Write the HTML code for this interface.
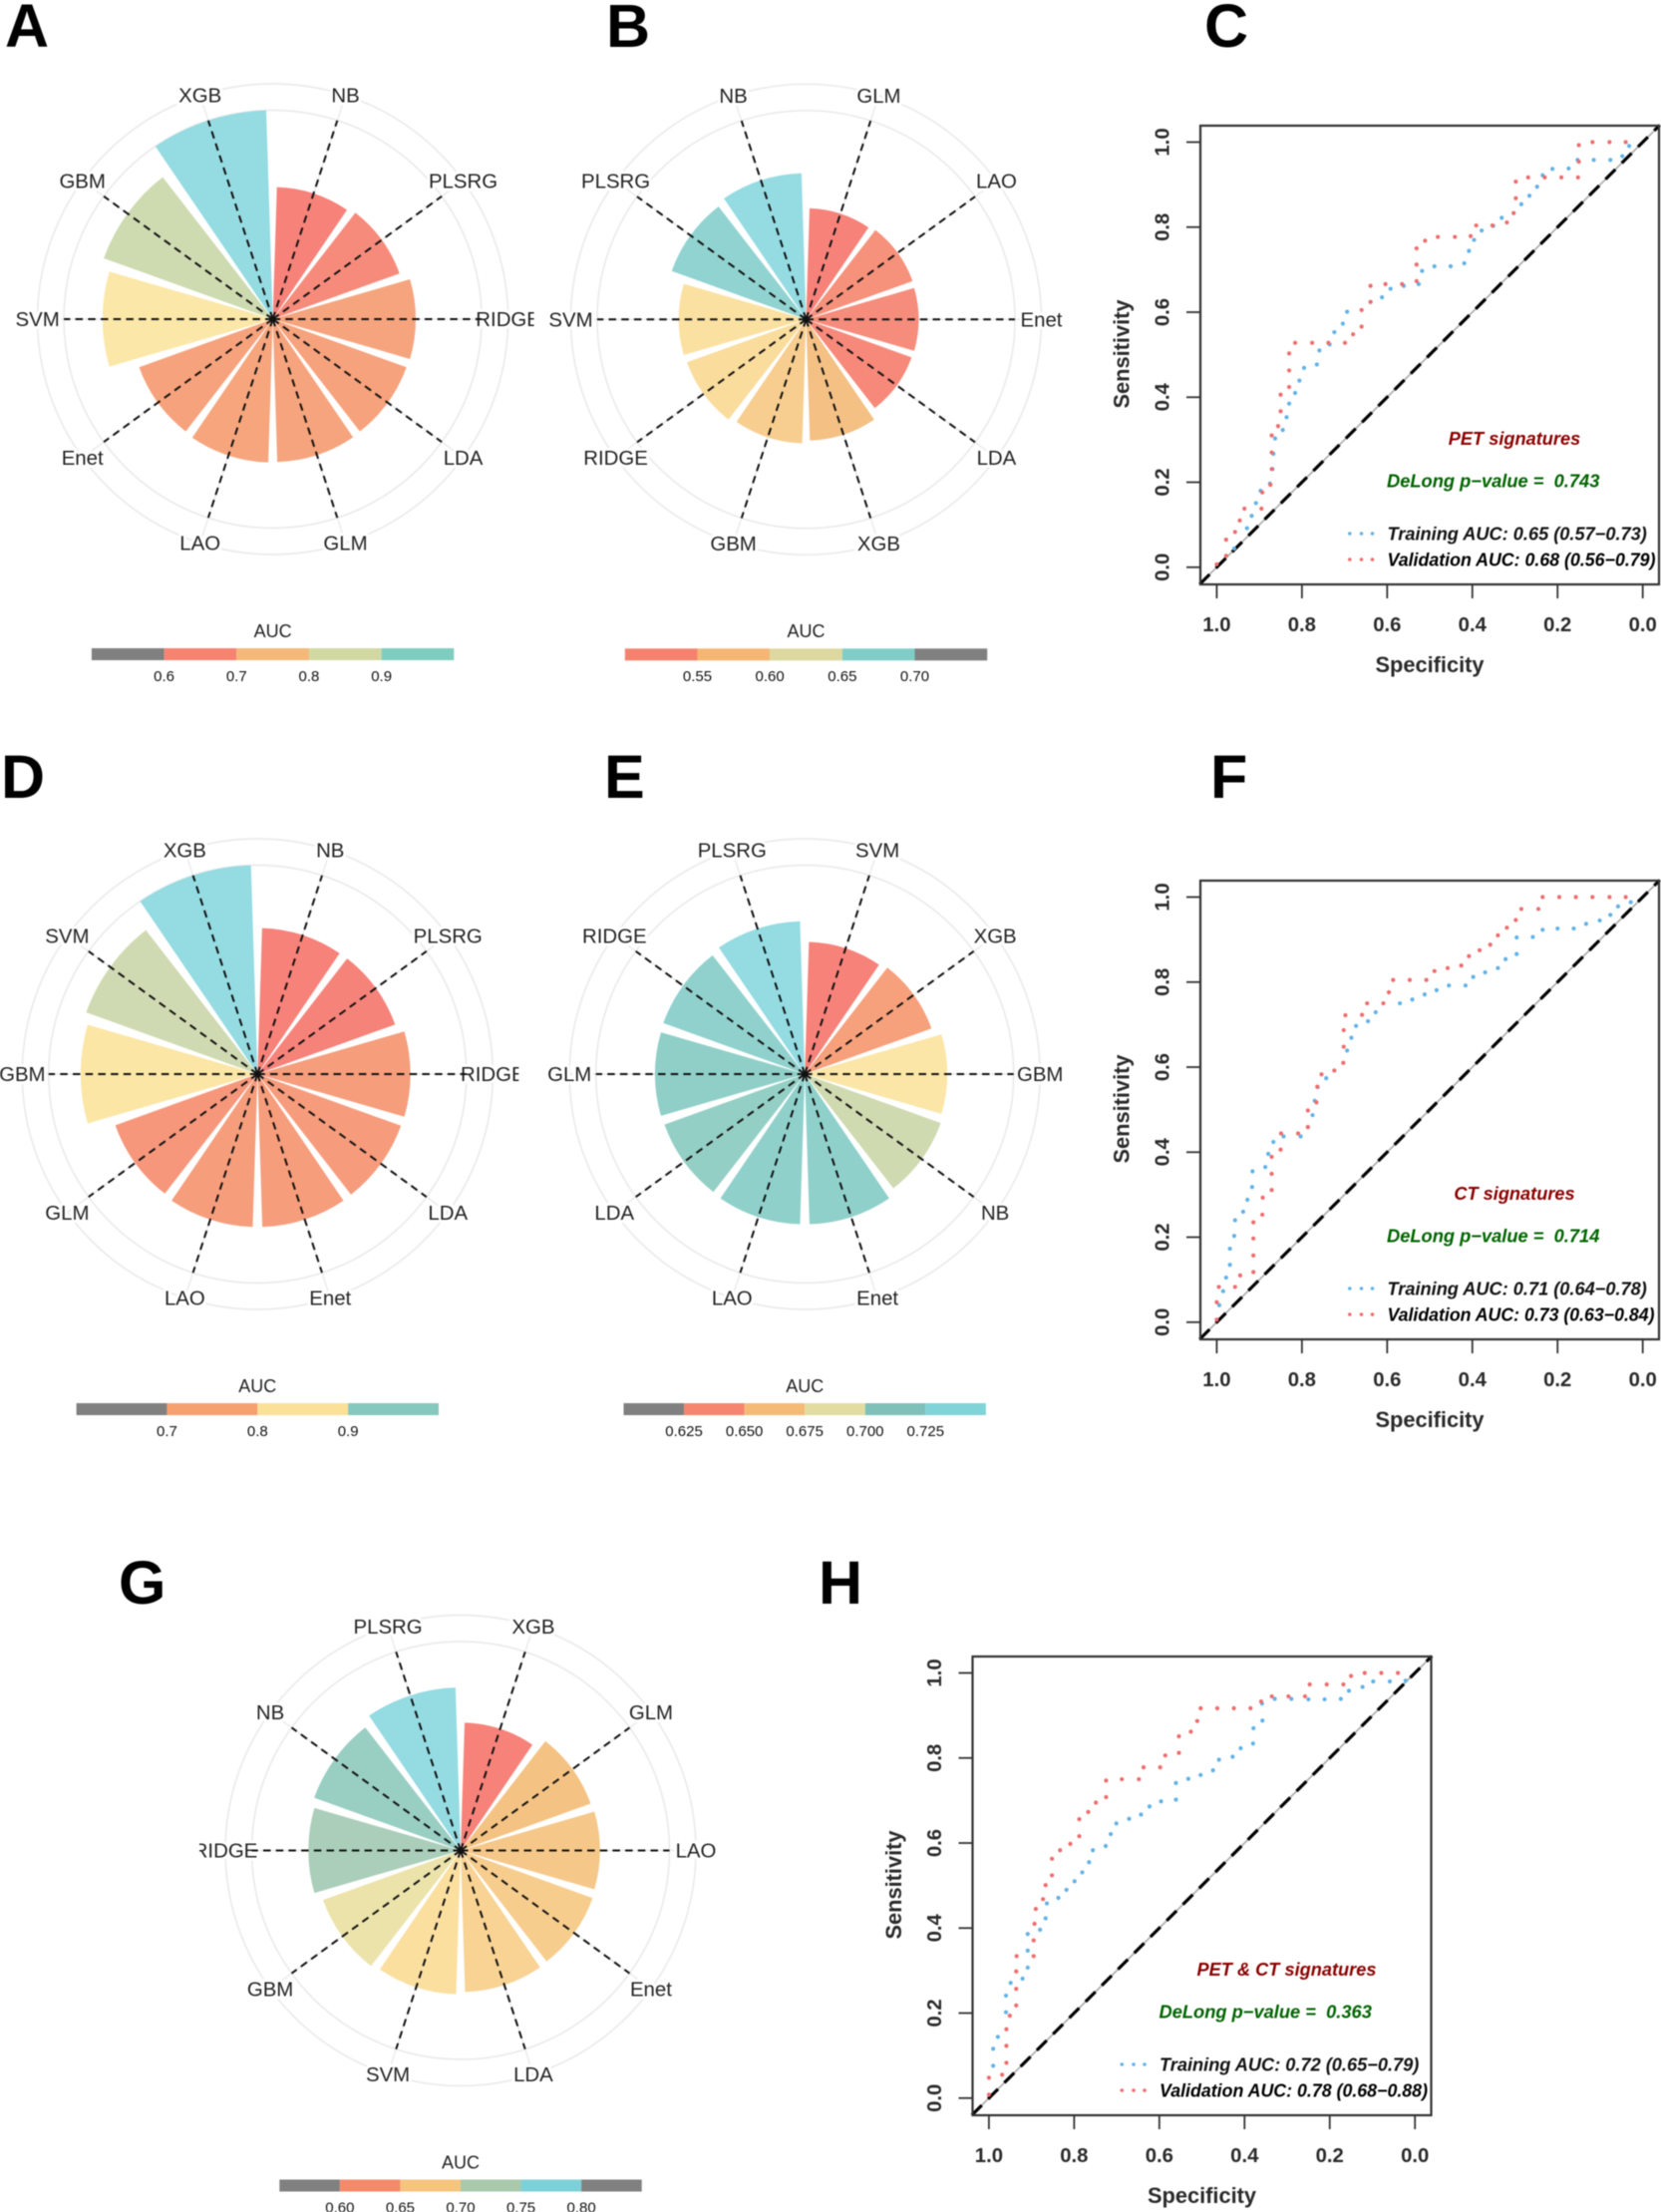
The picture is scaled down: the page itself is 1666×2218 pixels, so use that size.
<!DOCTYPE html>
<html lang="en">
<head>
<meta charset="utf-8">
<title>AUC radial charts and ROC curves</title>
<style>
html,body{margin:0;padding:0;background:#fff;}
svg{display:block;font-family:"Liberation Sans",Arial,sans-serif;filter:blur(0.5px);}
</style>
</head>
<body>
<svg id="figure" width="1666" height="2218" viewBox="0 0 1666 2218" xmlns="http://www.w3.org/2000/svg"></svg>
<script>
// ---------- Radial bar data ----------
const panelAMethods = ["NB","PLSRG","RIDGE","LDA","GLM","LAO","Enet","SVM","GBM","XGB"];
const panelAAuc = [0.632,0.645,0.684,0.68,0.684,0.686,0.68,0.815,0.86,1.0];
const panelBMethods = ["GLM","LAO","Enet","LDA","XGB","GBM","RIDGE","SVM","PLSRG","NB"];
const panelBAuc = [0.532,0.542,0.539,0.537,0.58,0.593,0.606,0.61,0.684,0.70];
const panelDMethods = ["NB","PLSRG","RIDGE","LDA","Enet","LAO","GLM","GBM","SVM","XGB"];
const panelDAuc = [0.699,0.70,0.732,0.73,0.732,0.732,0.724,0.847,0.872,1.0];
const panelEMethods = ["SVM","XGB","GBM","NB","Enet","LAO","LDA","GLM","RIDGE","PLSRG"];
const panelEAuc = [0.633,0.645,0.682,0.692,0.719,0.719,0.714,0.717,0.72,0.732];
const panelGMethods = ["XGB","GLM","LAO","Enet","LDA","SVM","GBM","RIDGE","NB","PLSRG"];
const panelGAuc = [0.612,0.662,0.667,0.672,0.677,0.688,0.70,0.729,0.745,0.78];

// ---------- Binned legend data ----------
const legendADomain = [0.5,1.0];
const legendATicks = [0.6,0.7,0.8,0.9];
const legendALabels = ["0.6","0.7","0.8","0.9"];
const legendBDomain = [0.5,0.75];
const legendBTicks = [0.55,0.60,0.65,0.70];
const legendBLabels = ["0.55","0.60","0.65","0.70"];
const legendDDomain = [0.6,1.0];
const legendDTicks = [0.7,0.8,0.9];
const legendDLabels = ["0.7","0.8","0.9"];
const legendEDomain = [0.6,0.75];
const legendETicks = [0.625,0.65,0.675,0.70,0.725];
const legendELabels = ["0.625","0.650","0.675","0.700","0.725"];
const legendGDomain = [0.55,0.85];
const legendGTicks = [0.60,0.65,0.70,0.75,0.80];
const legendGLabels = ["0.60","0.65","0.70","0.75","0.80"];

// ---------- ROC data (specificity, sensitivity) ----------
const rocCTrainSpec = [.959,.929,.918,.908,.897,.875,.869,.867,.863,.845,.836,.830,.816,.806,.795,.765,.759,.735,.724,.704,.694,.639,.612,.592,.561,.526,.518,.489,.451,.419,.408,.396,.378,.351,.331,.303,.285,.266,.248,.235,.212,.174,.153,.115,.076,.048,.032];
const rocCTrainSens = [.044,.092,.121,.151,.180,.197,.231,.267,.303,.323,.353,.385,.410,.439,.469,.477,.510,.524,.553,.573,.601,.624,.635,.655,.662,.666,.697,.708,.708,.715,.744,.770,.792,.803,.822,.833,.854,.874,.895,.922,.937,.938,.958,.958,.958,.967,.991];
const rocCValidSpec = [1,.978,.978,.957,.946,.935,.895,.893,.874,.871,.871,.871,.856,.850,.850,.830,.830,.830,.816,.776,.738,.699,.680,.660,.660,.639,.639,.604,.565,.531,.531,.531,.511,.481,.441,.404,.391,.353,.319,.303,.298,.298,.269,.230,.191,.152,.150,.150,.118,.078,.040];
const rocCValidSens = [.007,.027,.065,.083,.110,.138,.138,.176,.194,.231,.270,.310,.332,.367,.406,.424,.463,.503,.528,.528,.528,.528,.548,.566,.605,.624,.662,.666,.666,.673,.712,.750,.768,.777,.777,.779,.804,.804,.811,.833,.868,.907,.917,.917,.917,.917,.954,.993,1,1,1];
const rocFTrainSpec = [.994,.985,.978,.969,.969,.959,.957,.938,.928,.917,.916,.886,.879,.867,.843,.803,.786,.775,.770,.763,.743,.724,.694,.684,.673,.645,.627,.570,.541,.512,.484,.455,.416,.398,.370,.340,.322,.296,.296,.258,.235,.200,.162,.133,.101,.076,.058,.028];
const rocFTrainSens = [.040,.073,.105,.135,.173,.203,.240,.260,.288,.318,.355,.365,.396,.424,.437,.437,.459,.487,.521,.553,.574,.592,.639,.669,.697,.708,.729,.750,.759,.771,.781,.792,.792,.812,.823,.833,.854,.866,.905,.906,.923,.926,.926,.937,.945,.958,.978,.988];
const rocFValidSpec = [1,1,.995,.957,.945,.914,.914,.914,.914,.893,.892,.871,.871,.871,.850,.849,.809,.786,.786,.766,.764,.754,.724,.703,.702,.702,.698,.659,.647,.609,.596,.586,.547,.508,.489,.458,.426,.408,.383,.358,.340,.319,.298,.285,.245,.235,.196,.157,.118,.078,.040];
const rocFValidSens = [.006,.047,.083,.083,.110,.118,.157,.197,.235,.253,.293,.311,.349,.389,.406,.444,.444,.459,.498,.517,.554,.583,.592,.610,.648,.687,.722,.723,.750,.750,.776,.805,.805,.805,.826,.833,.839,.861,.875,.888,.910,.928,.946,.972,.972,1,1,1,1,1,1];
const rocHTrainSpec = [.990,.990,.979,.960,.960,.949,.921,.909,.909,.909,.880,.867,.864,.837,.818,.799,.781,.765,.756,.726,.714,.701,.671,.643,.623,.596,.561,.561,.532,.503,.474,.460,.428,.409,.380,.379,.358,.359,.329,.290,.250,.212,.174,.155,.123,.098,.059,.022];
const rocHTrainSens = [.076,.116,.144,.202,.241,.271,.281,.307,.347,.386,.396,.423,.458,.471,.490,.510,.531,.555,.583,.593,.621,.646,.657,.667,.686,.698,.702,.741,.751,.760,.771,.796,.803,.823,.834,.870,.888,.928,.939,.939,.938,.938,.939,.958,.967,.980,.980,.982];
const rocHValidSpec = [1,1,.969,.959,.959,.959,.951,.936,.936,.936,.935,.895,.895,.893,.890,.873,.867,.852,.852,.833,.809,.788,.788,.767,.749,.725,.725,.688,.648,.637,.598,.586,.554,.554,.526,.511,.503,.464,.425,.386,.361,.336,.297,.258,.247,.207,.168,.150,.118,.079,.040];
const rocHValidSens = [.008,.048,.055,.083,.123,.162,.194,.218,.257,.298,.334,.334,.371,.410,.445,.468,.501,.524,.563,.583,.598,.616,.656,.673,.695,.708,.747,.750,.750,.778,.778,.806,.812,.851,.862,.887,.917,.917,.917,.917,.933,.945,.945,.945,.973,.973,.973,.993,1,1,1];
const rocAxisTicks = [0,0.2,0.4,0.6,0.8,1.0];

// ---------- Styles ----------
const svg = document.getElementById('figure');
const NS = 'http://www.w3.org/2000/svg';
const R_UNIT = 209.5, R_OUTER = 236, CLIP_HALF = 262;
const rampStops = [[0,'#F6827A'],[.12,'#F6A07C'],[.3,'#F4C384'],[.46,'#FBE0A0'],[.5,'#FBE7A8'],[.57,'#D0DAB2'],[.62,'#CEDAB0'],[.7,'#A8CDBA'],[.85,'#8FCFC8'],[1,'#94DBE2']];
const swatchesA = ['#808080','#F5836F','#F4B878','#D2D8A2','#7FCDC0'];
const swatchesB = ['#F5826E','#F4B672','#DCD8A0','#80CDC8','#808080'];
const swatchesD = ['#808080','#F6A070','#FBE098','#85C8BE'];
const swatchesE = ['#808080','#F5856F','#F4BA76','#E2DCA0','#7FC0B8','#80D4D8'];
const swatchesG = ['#808080','#F58A6B','#F7C47E','#A8C9AC','#7CD0D8','#808080'];

function mk(tag, parent, attrs, text){
  const el = document.createElementNS(NS, tag);
  for (const k in attrs) el.setAttribute(k, attrs[k]);
  if (text !== undefined) el.textContent = text;
  parent.appendChild(el);
  return el;
}
function hex(c){return [parseInt(c.slice(1,3),16),parseInt(c.slice(3,5),16),parseInt(c.slice(5,7),16)];}
function ramp(t){
  for (let i=1;i<rampStops.length;i++){
    if (t<=rampStops[i][0]){
      const a=rampStops[i-1], b=rampStops[i], f=(t-a[0])/(b[0]-a[0]);
      const ca=hex(a[1]), cb=hex(b[1]);
      return 'rgb('+ca.map((v,j)=>Math.round(v+(cb[j]-v)*f)).join(',')+')';
    }
  }
  return rampStops[rampStops.length-1][1];
}

function drawRadial(id, cx, cy, methods, auc){
  const g = mk('g', svg, {});
  
  
  const defs = mk('clipPath', g, {id:'clip-'+id});
  mk('rect', defs, {x:cx-CLIP_HALF, y:cy-CLIP_HALF, width:CLIP_HALF*2, height:CLIP_HALF*2});
  g.setAttribute('clip-path', 'url(#clip-'+id+')');
  const n = methods.length, step = 360/n;
  const rScale = v => v*R_UNIT;
  const pt = (deg,r) => {const a=deg*Math.PI/180; return [cx+r*Math.sin(a), cy-r*Math.cos(a)];};
  const lo = Math.min(...auc), hi = Math.max(...auc);

  [R_UNIT, R_OUTER].forEach((r, i) => {
    const ring = mk('circle', g, {cx:cx, cy:cy, r:r, fill:'none', stroke:'#EBEBEB', 'stroke-width':1.7});
    
    
  });
  methods.forEach((m,i) => {
    const deg = (i+.5)*step;
    const p = pt(deg, R_OUTER);
    const spoke = mk('line', g, {x1:cx, y1:cy, x2:p[0], y2:p[1], stroke:'#EBEBEB', 'stroke-width':1.5});
    
    
  });
  methods.forEach((m,i) => {
    const a0 = i*step + step*.05, a1 = (i+1)*step - step*.05, r = rScale(auc[i]);
    const p0 = pt(a0,r), p1 = pt(a1,r);
    const bar = mk('path', g, {d:`M${cx} ${cy}L${p0[0]} ${p0[1]}A${r} ${r} 0 0 1 ${p1[0]} ${p1[1]}Z`, fill:ramp((auc[i]-lo)/(hi-lo))});
    
    
  });
  methods.forEach((m,i) => {
    const p = pt((i+.5)*step, R_OUTER);
    const lab = mk('text', g, {x:p[0], y:p[1], dy:'.35em', 'text-anchor':'middle', 'font-size':20.4, fill:'#222', stroke:'#fff', 'stroke-width':6, 'paint-order':'stroke', 'stroke-linejoin':'round'}, m);
    
    
  });
  methods.forEach((m,i) => {
    const p = pt((i+.5)*step, R_UNIT);
    const ln = mk('line', g, {x1:cx, y1:cy, x2:p[0], y2:p[1], stroke:'#111', 'stroke-width':2, 'stroke-dasharray':'7.5 5.2'});
    
    
  });
}

function drawLegend(id, cx, cy, domain, ticks, labels, colors){
  const g = mk('g', svg, {});
  
  
  const left = cx-181.7, width = 363.4, top = cy+330, h = 12;
  const x = v => left + (v-domain[0])/(domain[1]-domain[0])*width;
  const title = mk('text', g, {x:cx, y:cy+312.5, dy:'.35em', 'text-anchor':'middle', 'font-size':18, fill:'#222'}, 'AUC');
  
  
  const breaks = [domain[0], ...ticks, domain[1]];
  colors.forEach((c,i) => {
    const seg = mk('rect', g, {x:x(breaks[i]), y:top, width:x(breaks[i+1])-x(breaks[i]), height:h, fill:c});
    
    
  });
  ticks.forEach((t,i) => {
    const tl = mk('text', g, {x:x(t), y:cy+357.5, dy:'.35em', 'text-anchor':'middle', 'font-size':15, fill:'#111'}, labels[i]);
    
    
  });
}

function drawRoc(id, dx, dy, title, pValue, trainText, validText, validLen, trainSpec, trainSens, validSpec, validSens){
  const g = mk('g', svg, {transform:`translate(${dx} ${dy})`});
  
  
  const bL=1204, bR=1664, bT=126, bB=586;
  const x = s => 1647.7 - s*427.3;
  const y = s => 568.8 - s*426.3;
  const ink = '#2a2a2a';

  const diagGrey = mk('line', g, {x1:x(1.04), y1:y(-.04), x2:x(-.04), y2:y(1.04), stroke:'#aaa', 'stroke-width':1.6});
  
  
  const diag = mk('line', g, {x1:x(1.04), y1:y(-.04), x2:x(-.04), y2:y(1.04), stroke:'#000', 'stroke-width':3.2, 'stroke-dasharray':'14 9'});
  
  

  const box = mk('rect', g, {x:bL, y:bT, width:bR-bL, height:bB-bT, fill:'none', stroke:'#333', 'stroke-width':2.2});
  
  

  rocAxisTicks.forEach(t => {
    const tx = mk('line', g, {x1:x(t), y1:bB, x2:x(t), y2:bB+14, stroke:'#333', 'stroke-width':1.8});
    
    
    const lx = mk('text', g, {x:x(t), y:626, dy:'.35em', 'text-anchor':'middle', 'font-size':20.3, 'font-weight':'bold', fill:ink}, t.toFixed(1));
    
    
    const ty = mk('line', g, {x1:bL, y1:y(t), x2:bL-14, y2:y(t), stroke:'#333', 'stroke-width':1.8});
    
    
    const ly = mk('text', g, {x:0, y:0, dy:'.35em', transform:`translate(1165.6 ${y(t)}) rotate(-90)`, 'text-anchor':'middle', 'font-size':20.3, 'font-weight':'bold', fill:ink}, t.toFixed(1));
    
    
  });
  const xt = mk('text', g, {x:1434, y:666.4, dy:'.35em', 'text-anchor':'middle', 'font-size':21.8, 'font-weight':'bold', fill:ink}, 'Specificity');
  
  
  const yt = mk('text', g, {x:0, y:0, dy:'.35em', transform:'translate(1125 355) rotate(-90)', 'text-anchor':'middle', 'font-size':21.8, 'font-weight':'bold', fill:ink}, 'Sensitivity');
  
  

  trainSpec.forEach((s,i) => {
    const d = mk('circle', g, {cx:x(s), cy:y(trainSens[i]), r:2.1, fill:'#62B2E6'});
    
    
  });
  validSpec.forEach((s,i) => {
    const d = mk('circle', g, {cx:x(s), cy:y(validSens[i]), r:2.1, fill:'#EE6C6C'});
    
    
  });

  const ttl = mk('text', g, {x:1519, y:439.5, dy:'.35em', 'text-anchor':'middle', 'font-size':18.2, 'font-weight':'bold', 'font-style':'italic', fill:'#8B0000'}, title);
  
  
  const pv = mk('text', g, {x:1391, y:482, dy:'.35em', 'font-size':18.3, 'font-weight':'bold', 'font-style':'italic', fill:'#006400'}, 'DeLong p\u2212value =\u00a0\u00a0' + pValue);
  
  

  [1353.8,1365.5,1376.5].forEach(px => {
    const a = mk('circle', g, {cx:px, cy:535, r:1.8, fill:'#62B2E6'});
    
    
    const b = mk('circle', g, {cx:px, cy:561, r:1.8, fill:'#EE6C6C'});
    
    
  });
  const tr = mk('text', g, {x:1391.5, y:535, dy:'.35em', 'font-size':18.2, 'font-weight':'bold', 'font-style':'italic', fill:'#111'}, trainText);
  
  
  const va = mk('text', g, {x:1391.5, y:561, dy:'.35em', 'font-size':18.2, 'font-weight':'bold', 'font-style':'italic', fill:'#000', textLength:validLen, lengthAdjust:'spacingAndGlyphs'}, validText);
  
  
}

function drawLetter(ch, x, y){
  const t = mk('text', svg, {x:x, y:y, 'font-size':61, 'font-weight':'bold', fill:'#000'}, ch);
  
  
}

drawRadial('a', 273.6, 320, panelAMethods, panelAAuc);
drawRadial('b', 808.5, 320.3, panelBMethods, panelBAuc);
drawRadial('d', 258.3, 1077, panelDMethods, panelDAuc);
drawRadial('e', 807.2, 1077, panelEMethods, panelEAuc);
drawRadial('g', 462, 1855.5, panelGMethods, panelGAuc);

drawLegend('a', 273.6, 320, legendADomain, legendATicks, legendALabels, swatchesA);
drawLegend('b', 808.5, 320.3, legendBDomain, legendBTicks, legendBLabels, swatchesB);
drawLegend('d', 258.3, 1077, legendDDomain, legendDTicks, legendDLabels, swatchesD);
drawLegend('e', 807.2, 1077, legendEDomain, legendETicks, legendELabels, swatchesE);
drawLegend('g', 462, 1855.5, legendGDomain, legendGTicks, legendGLabels, swatchesG);

drawRoc('c', 0, 0, 'PET signatures', '0.743', 'Training AUC: 0.65 (0.57\u22120.73)', 'Validation AUC: 0.68 (0.56\u22120.79)', 269, rocCTrainSpec, rocCTrainSens, rocCValidSpec, rocCValidSens);
drawRoc('f', 0, 757, 'CT signatures', '0.714', 'Training AUC: 0.71 (0.64\u22120.78)', 'Validation AUC: 0.73 (0.63\u22120.84)', 268, rocFTrainSpec, rocFTrainSens, rocFValidSpec, rocFValidSens);
drawRoc('h', -228.5, 1535, 'PET & CT signatures', '0.363', 'Training AUC: 0.72 (0.65\u22120.79)', 'Validation AUC: 0.78 (0.68\u22120.88)', 269, rocHTrainSpec, rocHTrainSens, rocHValidSpec, rocHValidSens);

drawLetter('A', 5, 47);
drawLetter('B', 608, 47);
drawLetter('C', 1208, 47);
drawLetter('D', 1, 800);
drawLetter('E', 606, 800);
drawLetter('F', 1214, 800);
drawLetter('G', 119, 1608);
drawLetter('H', 821, 1608);
</script>
</body>
</html>
